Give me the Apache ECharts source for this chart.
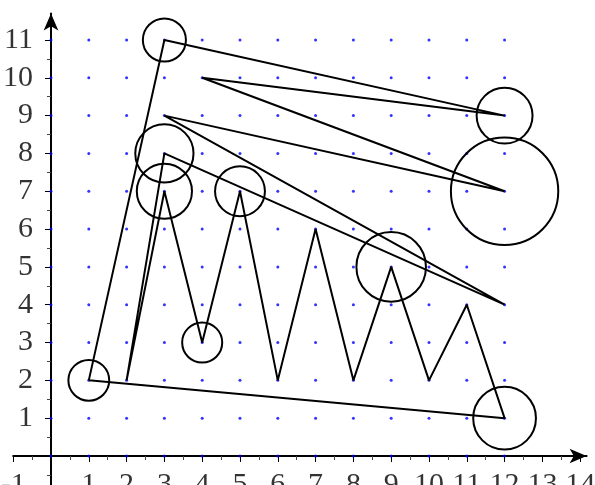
<!DOCTYPE html>
<html>
<head>
<meta charset="utf-8">
<script src="https://cdn.jsdelivr.net/npm/echarts@6/dist/echarts.min.js"></script>
<style>
  html, body { margin: 0; padding: 0; background: #fff; }
  #chart { width: 595px; height: 485px; }
</style>
</head>
<body>
<div id="chart"></div>
<script>
// closed polyline, in drawing order
const pathX = [1, 3, 12, 4, 12, 3, 12, 3, 2, 3, 4, 5, 6, 7, 8, 9, 10, 11, 12, 1];
const pathY = [2, 11, 9, 10, 7, 9, 4, 8, 2, 7, 3, 7, 2, 6, 2, 5, 2, 4, 1, 2];

// circles: centre and radius (axis units)
const circleX = [1, 3, 12, 3, 3, 5, 4, 9, 12, 12];
const circleY = [2, 11, 9, 8, 7, 7, 3, 5, 7, 1];
const circleR = [0.54, 0.57, 0.74, 0.77, 0.73, 0.66, 0.53, 0.92, 1.42, 0.83];

// lattice of blue dots
const dotX = [0, 1, 2, 3, 4, 5, 6, 7, 8, 9, 10, 11, 12];
const dotY = [0, 1, 2, 3, 4, 5, 6, 7, 8, 9, 10, 11];

// ticks and labels
const xTicks = [-1, 0, 1, 2, 3, 4, 5, 6, 7, 8, 9, 10, 11, 12, 13, 14];
const xMinor = [-0.5, 0.5, 1.5, 2.5, 3.5, 4.5, 5.5, 6.5, 7.5, 8.5, 9.5, 10.5, 11.5, 12.5, 13.5];
const xLabels = [-1, 1, 2, 3, 4, 5, 6, 7, 8, 9, 10, 11, 12, 13, 14];
const yTicks = [-1, 0, 1, 2, 3, 4, 5, 6, 7, 8, 9, 10, 11];
const yMinor = [-0.5, 0.5, 1.5, 2.5, 3.5, 4.5, 5.5, 6.5, 7.5, 8.5, 9.5, 10.5];
const yLabels = [1, 2, 3, 4, 5, 6, 7, 8, 9, 10, 11];

const pathData = pathX.map((x, i) => [x, pathY[i]]);
const circleData = circleX.map((x, i) => [x, circleY[i], circleR[i]]);
const dotData = [];
dotX.forEach(x => dotY.forEach(y => dotData.push([x, y])));

const font = 'Liberation Serif';
const labelStyle = { fontFamily: font, fontSize: 30, color: '#000' };

function mainAxis(min, max, ticks, isX) {
  return {
    type: 'value', min: min, max: max,
    position: isX ? 'bottom' : 'left',
    axisLine: {
      show: true, onZero: true,
      symbol: ['none', 'arrow'], symbolSize: [11, 17],
      lineStyle: { color: '#000', width: 2 }
    },
    axisTick: { show: true, customValues: ticks, length: 6, inside: false, lineStyle: { color: '#000', width: 1 } },
    axisLabel: { show: false },
    splitLine: { show: false }
  };
}
function minorAxis(min, max, ticks, isX) {
  return {
    type: 'value', min: min, max: max,
    position: isX ? 'bottom' : 'left',
    axisLine: { show: false, onZero: true },
    axisTick: { show: true, customValues: ticks, length: 4, inside: false, lineStyle: { color: '#444', width: 1 } },
    axisLabel: { show: false },
    splitLine: { show: false }
  };
}

const chart = echarts.init(document.getElementById('chart'), null, { renderer: 'canvas' });
const option = {
  animation: false,
  backgroundColor: '#fff',
  grid: {
    left: 13.2, top: 13.5, width: 573.4, height: 480.3, containLabel: false,
    outerBounds: { left: -400, top: -400, right: -400, bottom: -400 }
  },
  xAxis: [mainAxis(-1, 14.17, xTicks, true), minorAxis(-1, 14.17, xMinor, true)],
  yAxis: [mainAxis(-1, 11.7, yTicks, false), minorAxis(-1, 11.7, yMinor, false)],
  series: [
    {
      type: 'scatter', data: dotData, symbol: 'circle', symbolSize: 3,
      itemStyle: { color: '#0000ff' }, silent: true, z: 3
    },
    {
      type: 'line', data: pathData, symbol: 'none', smooth: false,
      lineStyle: { color: '#000', width: 2 }, silent: true, z: 4
    },
    {
      type: 'scatter', data: circleData, symbol: 'circle', symbolSize: 10,
      itemStyle: { color: 'rgba(0,0,0,0)', borderColor: '#000', borderWidth: 2, opacity: 1 },
      silent: true, z: 5
    },
    {
      // x tick labels, placed on the axis scale
      type: 'scatter', data: xLabels.map(v => [v, 0]), symbolSize: 0, clip: false, silent: true, z: 6,
      label: Object.assign({ show: true, position: 'bottom', distance: 14, formatter: p => String(p.value[0]) }, labelStyle)
    },
    {
      // y tick labels
      type: 'scatter', data: yLabels.map(v => [0, v]), symbolSize: 0, clip: false, silent: true, z: 6,
      label: Object.assign({ show: true, position: 'left', distance: 18, formatter: p => String(p.value[1]) }, labelStyle)
    }
  ]
};
chart.setOption(option);

// circle size from axis scale: pixels per unit
const unit = chart.convertToPixel({ xAxisIndex: 0 }, 1) - chart.convertToPixel({ xAxisIndex: 0 }, 0);
chart.setOption({
  series: [{}, {}, { symbolSize: function (v) { return v[2] * 2 * unit; } }, {}, {}]
});
</script>
</body>
</html>
